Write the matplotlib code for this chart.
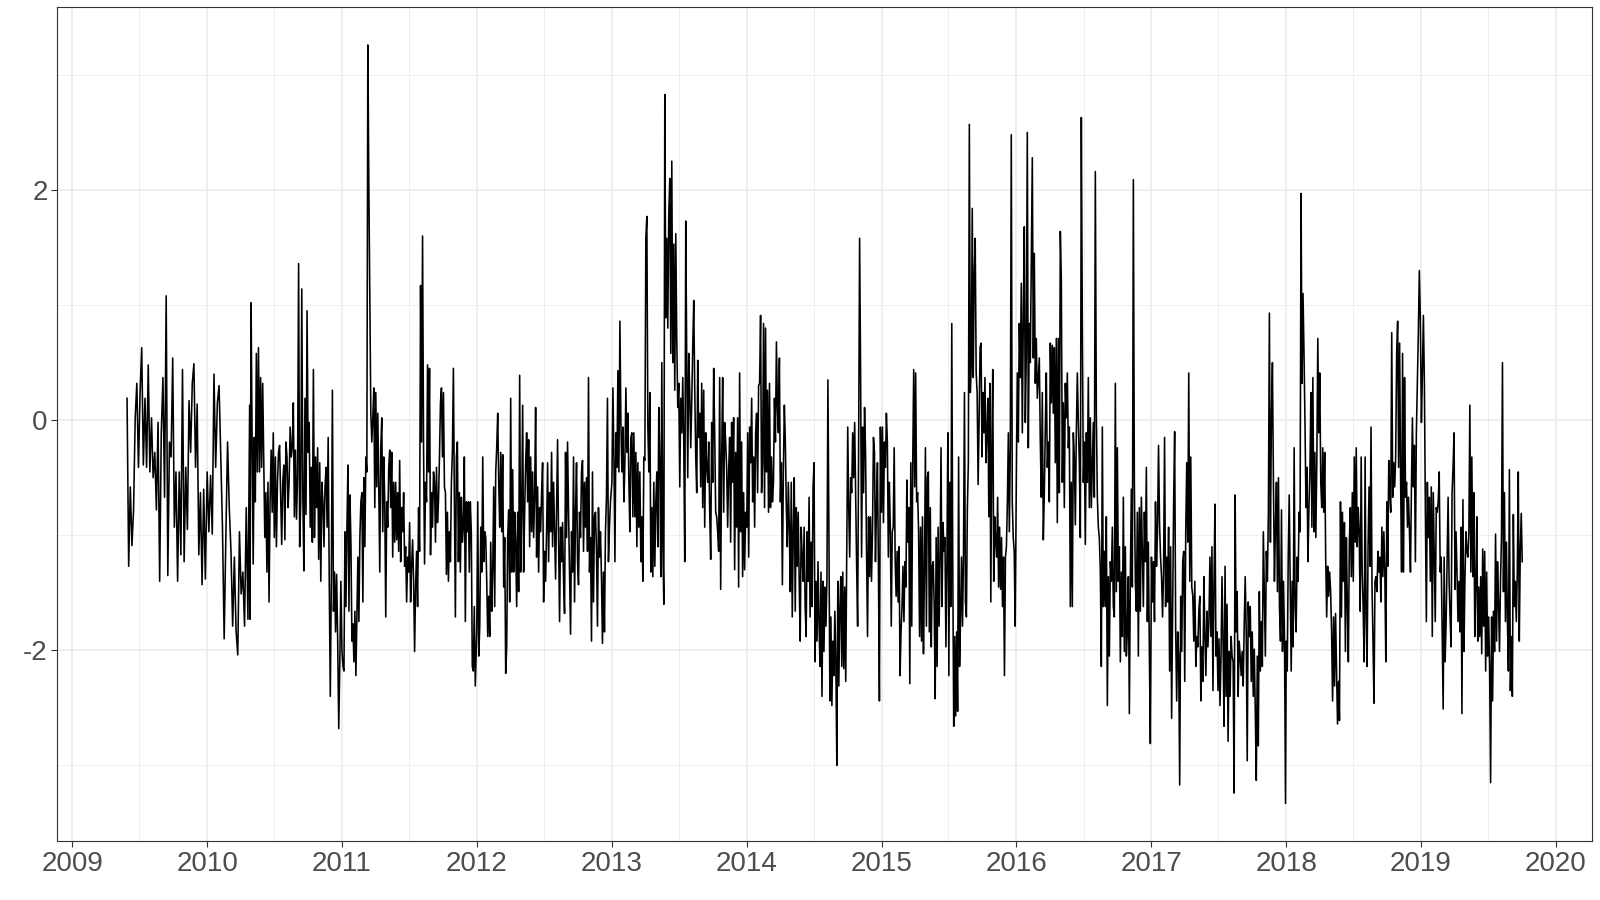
import numpy as np
import pandas as pd
import matplotlib
matplotlib.use('Agg')
import matplotlib.pyplot as plt
import matplotlib.dates as mdates

plt.rcParams['font.family'] = ['Liberation Sans', 'DejaVu Sans']
plt.rcParams['axes.unicode_minus'] = False

# values, one list per period
y2009 = [0.19, -1.27, -0.58, -1.09, -0.78, 0.02, 0.32, -0.41, 0.24, 0.63, -0.39, 0.19, -0.41, 0.48, -0.45,
         0.02, -0.5, -0.28, -0.78, -0.02, -1.4, -0.11, 0.37, -0.67, 1.08, -1.35, -0.19, -0.32, 0.54, -0.93,
         -0.45, -1.4, -0.45, -1.17, 0.44, -1.23, -0.41, -0.95, 0.17, -0.28, 0.32, 0.49, -0.41, 0.14, -1.17,
         -0.63, -1.43, -0.6, -1.38]
y2010a = [-0.45, -0.97, -0.48, -0.99, 0.4, -0.41, 0.15, 0.3, -0.32, -0.93, -1.9, -1.01, -0.19, -0.76, -1.13,
          -1.79, -1.19, -1.83, -2.04, -0.97, -1.51, -1.32, -1.79, -0.76, -1.73, 0.13]
y2010b = [-1.73, 1.02, -0.19, -1.25, -0.15, -0.71, 0.58, -0.45, 0.63, -0.45, 0.37, -0.41, 0.32, -0.37, -1.02,
          -0.63, -1.32, -0.54, -1.58, -0.71, -0.26, -0.8, -0.11, -1.02, -0.32, -1.1, -0.54, -0.28, -0.22, -0.67,
          -1.08, -0.54, -0.39, -1.04, -0.19, -0.32, -0.76, -0.54, -0.06, -0.32, -0.24, 0.15, -0.84, -0.26, -0.86,
          -0.5, 1.36, -1.1, -0.71, 1.14, -0.67, -1.31, 0.19, -0.82, 0.95, -0.28, -0.02, -0.93, -0.41, -1.06,
          0.44, -1.02, -0.32, -0.76, -0.24, -1.21, -0.37, -1.4, -0.54, -0.71, -1.1, -0.58, -0.41, -0.93, -0.15,
          -1.4, -2.4, -1.36, 0.26, -1.66, -1.32, -1.84, -1.34, -1.92, -2.68, -2.1, -1.4]
y2011 = [-2.01, -2.14, -2.18, -0.97, -1.62, -0.93, -0.39, -1.66, -0.65, -1.06, -1.92, -1.77, -2.1, -1.66, -2.22,
         -1.71, -1.19, -1.75, -1.02, -0.71, -0.63, -1.58, -0.5, -1.1, -0.32, -0.45, 3.26, 2.05, 1.02, 0.06,
         -0.19, 0.02, 0.28, -0.76, 0.24, -0.58, 0.06, -0.58, -1.32, -0.24, 0.02, -0.97, -0.32, -0.71, -1.71,
         -0.71, -0.93, -0.41, -0.26, -0.76, -0.28, -1.19, -0.54, -1.06, -0.54, -1.04, -0.63, -1.14, -0.35, -1.23,
         -0.76, -0.97, -0.63, -1.27, -1.1, -1.58, -1.19, -1.32, -0.89, -1.58, -1.27, -1.04, -1.4, -2.01, -1.45,
         -1.14, -1.62, -0.76, -1.14, 1.17, -0.19, 1.6, -0.24, -1.25, -0.54, -0.71, 0.48, -0.45, 0.45, -1.17,
         -0.63, -0.93, -0.45, -0.54, -1.06, -0.41, -0.89, -0.71, -0.32, 0.15, 0.28, -0.32, 0.24, -0.58, -0.63,
         -1.34, -0.8, -1.4, -0.97, -1.23, -0.54, -0.28, 0.45, -0.71, -1.71, -0.32, -0.19, -1.23, -0.63, -1.32,
         -0.67, -1.06, -0.93, -0.32, -1.75, -0.71, -0.97, -0.71, -1.32, -0.71, -0.97, -2.14, -2.18, -1.62, -2.31]
y2012 = [-1.84, -0.71, -2.05, -1.79, -0.93, -1.32, -0.32, -1.23, -0.97, -1.02, -1.4, -1.88, -1.53, -1.88, -1.06,
         -1.66, -1.32, -0.58, -1.62, -0.45, -0.24, 0.06, -0.54, -0.93, -0.28, -0.97, -0.3, -1.45, -1.02, -2.2,
         -1.97, -1.02, -0.78, -1.58, 0.19, -1.32, -0.43, -1.32, -0.8, -1.06, -1.62, -0.8, -1.49, 0.39, -1.32,
         -0.8, 0.13, -1.32, -0.8, -0.37, -0.11, -0.71, -0.17, -1.1, -0.32, -0.97, -0.45, -1.02, -0.67, 0.11,
         -1.19, -0.58, -1.32, -0.76, -0.97, -0.63, -0.37, -1.58, -1.14, -1.4, -0.97, -0.37, -1.23, -0.63, -0.97,
         -0.28, -1.1, -0.54, -0.97, -1.38, -0.8, -0.17, -1.02, -1.75, -0.93, -1.23, -0.89, -1.4, -1.68, -0.28,
         -1.02, -0.19, -0.8, -1.32, -1.86, -0.97, -1.32, -0.32, -1.58, -0.8, -0.37, -1.23, -1.43, -0.8, -1.02,
         -0.45, -0.35, -1.14, -0.54, -0.93, -0.5, -1.14, 0.37, -1.32, -1.02, -1.92, -0.45, -1.58, -0.84, -0.8,
         -1.14, -1.79, -0.76, -1.19, -0.97, -1.36, -1.94, -1.32, -1.84, -0.97, -0.67, 0.19, -1.23, -0.93, -0.71]
y2013 = [-0.54, 0.28, -0.32, -1.23, -0.11, -0.41, 0.43, -0.45, 0.86, -0.02, -0.45, -0.06, -0.71, -0.37, 0.28,
         -0.28, 0.06, -0.54, -0.97, -0.15, -0.11, -0.84, -0.11, -0.84, -0.28, -1.1, -0.37, -0.93, -0.45, -1.23,
         -0.84, -1.4, -0.32, -0.35, 1.58, 1.77, -0.06, -0.45, 0.24, -1.32, -0.76, -1.36, -0.54, -1.27, -0.71,
         -0.45, -1.1, 0.11, -0.37, -1.36, 0.5, -1.06, -1.6, 2.83, 0.89, 1.58, 0.8, 1.79, 2.1, 0.58,
         2.25, 0.5, 1.53, 0.26, 1.62, 0.71, 0.11, 0.32, -0.58, 0.19, -0.11, 0.37, -0.19, -1.23, 1.73,
         0.5, -0.5, 0.58, 0.24, -0.24, 0.15, 0.63, 1.04, 0.28, -0.32, -0.63, 0.52, -0.15, 0.06, -0.58,
         0.32, -0.76, 0.26, -0.93, -0.11, -0.41, -0.54, -0.19, -0.8, -1.21, -0.02, -0.54, 0.45, -0.11, -0.8,
         -0.84, -0.97, -1.14, 0.37, -1.47, -0.32, 0.37, -0.8, -0.02, -0.19, -0.41, -0.93, -0.45, -0.15, -1.06,
         -0.02, -0.54, 0.02, -1.3, -0.28, -0.93, 0.02, -1.45, 0.41, -0.97, -0.19, -1.36, -0.63, -1.3, -0.8]
y2014 = [-0.93, -0.11, -1.19, -0.06, -0.37, 0.19, -0.71, -0.32, -0.93, -0.11, 0.06, -0.63, 0.3, 0.32, 0.91,
         -0.63, -0.37, 0.84, -0.76, 0.8, -0.45, 0.26, -0.8, 0.32, -0.76, -0.32, -0.71, -0.54, 0.19, -0.19,
         0.68, 0.11, -0.11, 0.54, -0.71, -0.37, -1.43, -0.45, 0.13, -0.19, -0.76, -1.1, -0.54, -0.93, -1.49,
         -0.54, -1.71, -0.97, -0.5, -1.66, -0.76, -1.27, -0.8, -1.4, -1.92, -0.93, -1.19, -1.4, -0.93, -1.62,
         -1.88, -0.97, -1.4, -0.67, -1.71, -1.06, -1.62, -0.58, -0.37, -2.1, -1.4, -1.92, -1.23, -1.75, -2.14,
         -1.32, -2.4, -1.4, -2.01, -1.45, -1.79, -1.4, 0.35, -0.97, -2.44, -1.71, -2.48, -1.92, -2.22, -1.66,
         -2.1, -3.0, -1.4, -2.31, -1.66, -1.36, -2.14, -1.32, -2.16, -1.45, -2.27, -1.19, -0.06, -0.76, -1.19,
         -0.5, -0.63, -0.11, -0.5, -0.02, -0.67, -1.27, -1.79, -0.24, 1.58, 0.41, -1.19, -0.06, -0.63, 0.11,
         -0.28, -1.14, -1.88, -0.84, -1.36, -0.84, -1.4, -0.97, -0.15, -0.28, -1.23, -0.76, -0.37, -1.27, -2.44,
         -0.06]
y2015 = [-0.8, -0.06, -0.89, -0.19, -0.41, 0.06, -0.19, -1.19, -0.54, -0.93, -1.79, -0.97, -0.93, -0.24, -1.23,
         -1.53, -1.14, -1.58, -1.1, -2.22, -1.84, -1.62, -1.27, -1.75, -1.23, -1.45, -0.52, -1.06, -0.76, -2.29,
         -0.37, -1.79, -0.37, 0.44, -0.58, 0.41, -0.71, -0.63, -0.97, -1.88, -0.93, -1.92, -0.84, -2.03, -1.32,
         -0.24, -1.79, -0.5, -0.45, -1.84, -0.76, -1.97, -1.27, -1.23, -1.62, -2.42, -1.02, -2.14, -0.93, -1.79,
         -1.23, -0.24, -1.62, -0.89, -1.14, -1.02, -1.97, -1.23, -0.11, -2.22, -0.54, -1.62, 0.84, -1.23, -2.66,
         -1.88, -2.57, -1.84, -2.53, -0.32, -2.14, -1.71, -1.19, -1.79, -1.19, 0.24, -1.58, -1.71, -0.76, -0.37,
         2.57, 0.24, 0.5, 1.84, 0.37, 1.27, 1.58, 0.41, 0.24, -0.56, -0.02, 0.63, 0.67, -0.32, 0.24,
         -0.11, 0.37, -0.37, -0.11, 0.19, -0.84, 0.32, -1.58, -0.28, 0.44, -1.4, -0.84, -1.06, -1.19, -0.67,
         -1.45, -0.93, -1.47, -1.02, -1.62, -1.19, -2.22, -1.19, -1.1, -0.71, -0.11, -0.97, -0.24, 2.48, -0.71,
         -1.02, -1.14, -1.79]
y2016 = [-0.54, 0.41, -0.19, 0.84, 0.37, 1.19, -0.11, 0.89, 1.68, -0.02, 0.58, 2.5, -0.24, 0.84, 0.5,
         1.4, 2.28, 0.54, 1.45, 0.32, 0.71, 0.19, 0.37, 0.54, -0.19, -0.67, 0.24, -1.04, -0.63, -0.06,
         0.41, -0.41, -0.19, -0.71, 0.67, 0.15, 0.65, 0.06, 0.63, -0.37, 0.71, -0.89, 0.71, -0.63, 1.64,
         1.23, -0.54, 0.15, -0.76, 0.32, 0.02, 0.41, -0.24, -0.06, -1.62, -0.54, -1.62, -0.11, -0.32, -0.91,
         -0.11, 0.41, -0.02, -0.37, -1.02, 2.63, 0.8, -0.54, -0.19, -1.08, -0.11, -0.54, 0.37, -0.76, 0.02,
         -0.76, -0.37, -0.02, -0.67, 2.16, 0.06, -0.67, -0.93, -1.02, -1.32, -2.14, -0.06, -1.62, -1.14, -1.62,
         -0.84, -2.48, -1.36, -2.05, -1.23, -1.4, -0.93, -1.62, -1.71, 0.32, -1.49, -0.24, -1.4, -1.1, -2.1,
         -1.32, -1.88, -0.67, -2.01, -1.1, -2.05, -1.84, -1.36, -2.55, -1.36, -0.6, -1.45, 2.09, -0.54, -1.4,
         -1.66, -0.8, -2.05, -0.76, -1.66, -0.67, -1.14, -1.62, -0.8, -1.23, -0.41, -1.75, -1.06, -2.01, -2.81]
y2017 = [-1.19, -1.58, -1.23, -1.75, -0.71, -1.27, -0.97, -0.22, -0.89, -1.19, -1.36, -1.71, -1.32, -0.15, -1.62,
         -1.19, -1.58, -0.93, -2.18, -1.1, -2.59, -1.62, -0.71, -0.1, -1.81, -2.44, -1.84, -2.05, -3.17, -1.53,
         -2.01, -1.23, -1.14, -2.27, -0.97, -0.37, -1.06, 0.41, -1.4, -0.32, -1.45, -1.53, -1.92, -1.4, -2.14,
         -1.88, -1.97, -1.66, -1.53, -2.44, -1.97, -2.27, -1.36, -1.88, -2.22, -1.66, -1.97, -1.75, -1.19, -1.88,
         -1.1, -2.35, -1.45, -0.73, -2.05, -1.84, -2.35, -1.9, -2.48, -2.05, -1.36, -1.92, -2.66, -1.27, -2.4,
         -1.6, -2.79, -2.01, -2.4, -1.88, -2.05, -2.1, -3.24, -0.65, -1.84, -1.49, -2.4, -1.92, -2.05, -2.22,
         -2.01, -2.31, -1.79, -1.36, -1.84, -2.96, -1.58, -1.88, -1.62, -2.27, -1.84, -2.4, -1.99, -2.53, -3.13,
         -2.05, -2.83, -1.49, -2.18, -1.75, -2.14, -0.97, -1.53, -2.05, -1.14, -1.4, -0.8, 0.93, -1.06, 0.02,
         0.5, -0.54, -1.4, -0.93, -0.54, -1.49, -0.5, -1.62, -1.92, -0.78, -2.01, -1.4, -1.92, -3.33]
y2018 = [-1.92, -2.18, -1.19, -0.65, -1.4, -2.18, -1.4, -1.97, -0.24, -1.62, -1.84, -1.19, -1.4, -0.8, -0.97,
         1.97, 0.32, 1.1, 0.58, -0.02, -0.76, -0.41, -1.23, -0.76, -0.45, 0.24, -0.93, 0.37, -0.97, -0.28,
         -1.02, -0.37, 0.71, -0.11, 0.41, -0.54, -0.76, -0.24, -0.8, -0.28, -1.19, -1.71, -1.27, -1.53, -1.32,
         -1.49, -1.84, -2.44, -1.71, -2.31, -1.68, -2.18, -2.64, -2.27, -2.61, -0.71, -1.71, -0.8, -1.4, -0.89,
         -2.01, -1.02, -1.62, -2.1, -1.06, -0.76, -1.36, -0.63, -1.4, -0.32, -1.06, -0.24, -1.1, -0.76, -0.97,
         -1.66, -0.32, -1.32, -1.62, -2.1, -0.32, -1.71, -2.14, -1.1, -0.58, -1.27, -0.06, -1.45, -1.92, -2.46,
         -1.4, -1.36, -1.49, -1.14, -1.32, -1.19, -1.58, -0.93, -1.36, -0.97, -1.32, -2.1, -0.71, -1.27, -0.35,
         -0.63, -0.8, 0.76, -0.67, -0.37, -0.58, -0.32, 0.58, 0.86, -0.41, 0.67, -0.5, -1.32, 0.58, -1.32,
         0.37, -0.67, -0.54, -0.93, -0.67, -0.97, -1.32, -0.58, 0.02, -0.58, -0.22, -1.23, -0.11, 0.32, 0.76,
         1.3, 0.89]
y2019 = [-0.02, 0.41, 0.91, 0.32, -0.8, -1.75, -0.54, -1.02, -0.67, -1.4, -0.58, -1.88, -0.63, -1.19, -1.75,
         -0.76, -0.8, -0.71, -0.45, -1.32, -1.19, -1.88, -2.51, -1.19, -2.1, -1.75, -1.19, -0.67, -1.4, -1.71,
         -1.97, -0.63, -0.41, -0.11, -1.47, -0.97, -1.32, -1.75, -1.4, -1.84, -0.93, -2.55, -0.69, -2.01, -1.4,
         -0.97, -1.14, -1.19, -0.97, 0.13, -1.32, -0.32, -1.36, -0.63, -1.88, -1.45, -0.84, -1.92, -1.45, -1.88,
         -1.36, -2.03, -1.12, -1.79, -1.14, -2.18, -1.32, -2.05, -1.71, -2.14, -3.15, -1.71, -2.44, -1.66, -2.01,
         -0.99, -1.92, -1.23, -1.58, -2.01, -1.4, -1.02, 0.5, -1.49, -0.63, -1.75, -1.06, -1.75, -2.18, -0.43,
         -2.35, -1.88, -2.4, -0.82, -1.62, -1.4, -1.75, -1.32, -0.45, -1.92, -1.14, -0.81, -1.23]

periods = [
    ("2009-05-29", "2009-12-27", y2009),
    ("2010-01-01", "2010-04-26", y2010a),
    ("2010-04-27", "2010-12-29", y2010b),
    ("2011-01-01", "2011-12-28", y2011),
    ("2012-01-01", "2012-12-28", y2012),
    ("2013-01-01", "2013-12-29", y2013),
    ("2014-01-01", "2014-12-29", y2014),
    ("2015-01-01", "2015-12-29", y2015),
    ("2016-01-01", "2016-12-29", y2016),
    ("2017-01-01", "2017-12-30", y2017),
    ("2018-01-01", "2018-12-30", y2018),
    ("2019-01-02", "2019-10-02", y2019),
]

dates = np.concatenate([pd.date_range(a, b, periods=len(v)).values for a, b, v in periods])
values = np.concatenate([np.array(v) for _, _, v in periods])

fig = plt.figure(figsize=(16, 9), dpi=100)
ax = fig.add_axes([0.0358, 0.0652, 0.9592, 0.9270])
ax.plot(dates, values, color='black', lw=1.15)
ax.margins(0.05)

ax.xaxis.set_major_locator(mdates.YearLocator(1))
ax.xaxis.set_major_formatter(mdates.DateFormatter('%Y'))
ax.xaxis.set_minor_locator(mdates.MonthLocator(bymonth=7))
ax.set_yticks([-2, 0, 2])
ax.set_yticks([-3, -1, 1, 3], minor=True)

ax.set_axisbelow(True)
ax.grid(which='major', color='#EBEBEB', lw=1.1)
ax.grid(which='minor', color='#EBEBEB', lw=0.55)
ax.tick_params(which='major', labelsize=20, labelcolor='#4D4D4D', color='#333333',
               length=4, width=0.8, pad=3)
ax.tick_params(which='minor', length=0)
for s in ax.spines.values():
    s.set_color('#333333')
    s.set_linewidth(0.8)

fig.savefig('out.png', dpi=100)
